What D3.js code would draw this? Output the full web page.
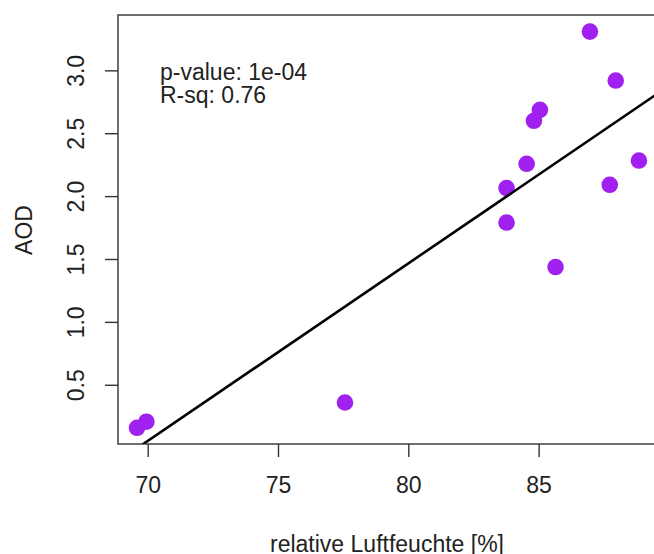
<!DOCTYPE html>
<html>
<head>
<meta charset="utf-8">
<script src="https://cdn.jsdelivr.net/npm/d3@7"></script>
<style>
  html, body { margin: 0; padding: 0; background: #fff; }
  svg { display: block; }
  text { font-family: "Liberation Sans", Arial, sans-serif; fill: #222; }
</style>
</head>
<body>
<svg id="chart" width="654" height="554"></svg>
<script>
// Data
const humidity = [69.59, 69.95, 77.57, 83.77, 83.77, 84.54, 84.82, 85.05, 85.65, 86.97, 87.73, 87.96, 88.85];
const aod      = [0.158, 0.206, 0.359, 2.064, 1.790, 2.257, 2.599, 2.686, 1.436, 3.308, 2.090, 2.919, 2.283];
const xTicks = [70, 75, 80, 85];
const yTicks = [0.5, 1.0, 1.5, 2.0, 2.5, 3.0];
const statLines = ["p-value: 1e-04", "R-sq: 0.76"];
const xTitle = "relative Luftfeuchte [%]";
const yTitle = "AOD";

const svg = d3.select("#chart");
const pLeft = 118, pTop = 15, pBottom = 444, pRight = 659;
const fontSize = 23;

const x = d3.scaleLinear().domain([68.86, 89.62]).range([pLeft, pRight]);
const y = d3.scaleLinear().domain([0.029, 3.44]).range([pBottom, pTop]);

svg.append("defs").append("clipPath").attr("id", "plotclip")
  .append("rect").attr("x", pLeft).attr("y", pTop).attr("width", pRight - pLeft).attr("height", pBottom - pTop);

// Points
svg.append("g").selectAll("circle").data(d3.range(humidity.length)).join("circle")
  .attr("cx", i => x(humidity[i]))
  .attr("cy", i => y(aod[i]))
  .attr("r", 8.3)
  .attr("fill", "#a020f0");

// Least squares regression line
const mx = d3.mean(humidity), my = d3.mean(aod);
let sxy = 0, sxx = 0;
humidity.forEach((v, i) => { sxy += (v - mx) * (aod[i] - my); sxx += (v - mx) * (v - mx); });
const slope = sxy / sxx, intercept = my - slope * mx;
const xd = x.domain();
svg.append("line")
  .attr("clip-path", "url(#plotclip)")
  .attr("x1", x(xd[0] - 5)).attr("y1", y(intercept + slope * (xd[0] - 5)))
  .attr("x2", x(xd[1] + 5)).attr("y2", y(intercept + slope * (xd[1] + 5)))
  .attr("stroke", "#000").attr("stroke-width", 2.6);

// Box
svg.append("rect").attr("x", pLeft).attr("y", pTop).attr("width", pRight - pLeft).attr("height", pBottom - pTop)
  .attr("fill", "none").attr("stroke", "#333").attr("stroke-width", 1.4);

// X axis
const xAxis = d3.axisBottom(x).tickValues(xTicks).tickSize(13).tickPadding(20).tickFormat(d3.format("d"));
const gx = svg.append("g").attr("transform", `translate(0,${pBottom})`).call(xAxis);
gx.select(".domain").remove();
gx.selectAll("line").attr("stroke", "#333").attr("stroke-width", 1.4);
gx.selectAll("text").attr("font-size", fontSize).attr("fill", "#222")
  .attr("font-family", "Liberation Sans, Arial, sans-serif");

// Y axis
const yAxis = d3.axisLeft(y).tickValues(yTicks).tickSize(13).tickFormat(d3.format(".1f"));
const gy = svg.append("g").attr("transform", `translate(${pLeft},0)`).call(yAxis);
gy.select(".domain").remove();
gy.selectAll("line").attr("stroke", "#333").attr("stroke-width", 1.4);
gy.selectAll("text")
  .attr("font-size", fontSize).attr("fill", "#222")
  .attr("font-family", "Liberation Sans, Arial, sans-serif")
  .attr("x", null).attr("dy", null)
  .attr("text-anchor", "middle")
  .attr("transform", "translate(-34,0) rotate(-90)");

// Titles
svg.append("text").attr("x", (pLeft + 654) / 2 + 1).attr("y", 552)
  .attr("text-anchor", "middle").attr("font-size", fontSize).text(xTitle);
svg.append("text").attr("transform", "translate(32,230) rotate(-90)")
  .attr("text-anchor", "middle").attr("font-size", fontSize).text(yTitle);

// Stats annotation
svg.append("g").selectAll("text").data(statLines).join("text")
  .attr("x", 160).attr("y", (d, i) => 80 + i * 23)
  .attr("font-size", fontSize).text(d => d);
</script>
</body>
</html>
